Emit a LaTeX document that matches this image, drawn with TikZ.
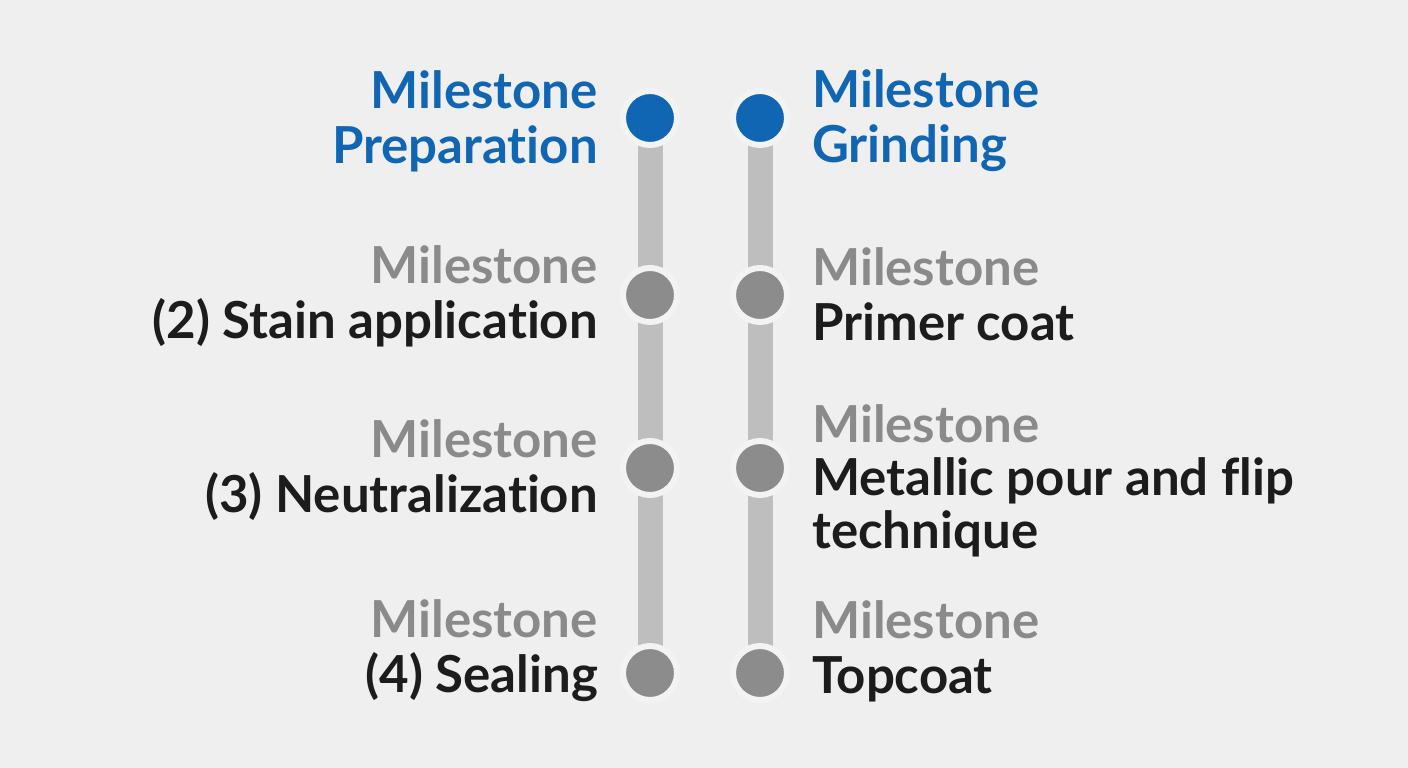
\documentclass[tikz,border=0pt]{standalone}
\usepackage{fontspec}
\setmainfont{Lato}[Ligatures={NoCommon}]
\usetikzlibrary{backgrounds}
\pgfdeclarelayer{base}
\pgfsetlayers{base,background,main}
\definecolor{bgc}{HTML}{EFEFEF}
\definecolor{haloc}{HTML}{F3F3F3}
\definecolor{mblue}{HTML}{1166B3}
\definecolor{mgray}{HTML}{8C8C8C}
\definecolor{tgray}{HTML}{8A8A8A}
\definecolor{tblack}{HTML}{1C1C1C}
\definecolor{barc}{HTML}{BEBEBE}
\tikzset{
  dot/.style={circle, draw=haloc, line width=6pt, minimum size=54pt, inner sep=0pt},
  bluedot/.style={dot, fill=mblue},
  graydot/.style={dot, fill=mgray},
  bar/.style={draw=barc, line width=25pt},
  lbl/.style={font=\bfseries\fontsize{51}{55}\selectfont, inner sep=0pt, text=tblack},
  lleft/.style={lbl, anchor=east, align=right},
  lright/.style={lbl, anchor=west, align=left},
}
\begin{document}
\begin{tikzpicture}[x=1pt, y=-1pt]
\begin{pgfonlayer}{base}
\fill[bgc] (0,0) rectangle (1408,768);
\end{pgfonlayer}
\useasboundingbox (0,0) rectangle (1408,768);
% left track
\node[bluedot] (L1) at (650,118) {};
\node[graydot] (L2) at (650,295) {};
\node[graydot] (L3) at (650,468) {};
\node[graydot] (L4) at (650,673) {};
% right track
\node[bluedot] (R1) at (760,118) {};
\node[graydot] (R2) at (760,295) {};
\node[graydot] (R3) at (760,468) {};
\node[graydot] (R4) at (760,673) {};
\begin{pgfonlayer}{background}
\draw[bar] (L1.center) -- (L2.center) -- (L3.center) -- (L4.center);
\draw[bar] (R1.center) -- (R2.center) -- (R3.center) -- (R4.center);
\end{pgfonlayer}
% labels
\node[lleft, text=mblue] (tL1) at (598,121) {Milestone\\Preparation};
\node[lleft] (tL2) at (598,296) {\textcolor{tgray}{Milestone}\\(2) Stain application};
\node[lleft] (tL3) at (598,470) {\textcolor{tgray}{Milestone}\\(3) Neutralization};
\node[lleft] (tL4) at (598,651) {\textcolor{tgray}{Milestone}\\(4) Sealing};
\node[lright, text=mblue] (tR1) at (812,121) {Milestone\\Grinding};
\node[lright] (tR2) at (812,294) {\textcolor{tgray}{Milestone}\\Primer coat};
\node[lright, font=\bfseries\fontsize{51}{53}\selectfont] (tR3) at (812,481) {\textcolor{tgray}{Milestone}\\Metallic pour and flip\\technique};
\node[lright] (tR4) at (812,651) {\textcolor{tgray}{Milestone}\\Topcoat};
\end{tikzpicture}
\end{document}
